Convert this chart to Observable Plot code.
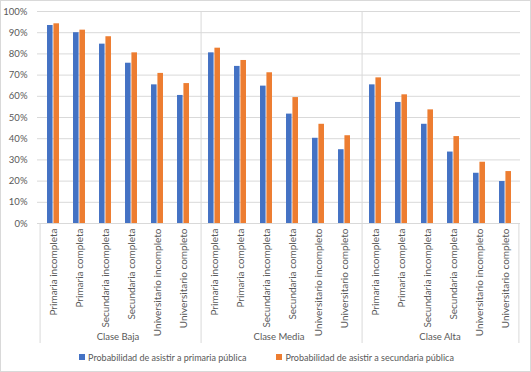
<!DOCTYPE html>
<html>
<head>
<meta charset="utf-8">
<script src="https://cdn.jsdelivr.net/npm/d3@7"></script>
<script src="https://cdn.jsdelivr.net/npm/@observablehq/plot@0.6"></script>
<style>
  html, body { margin: 0; padding: 0; background: #fff; }
  #wrap { position: relative; width: 531px; height: 372px; overflow: hidden; font-family: Lato, "Liberation Sans", sans-serif; }
  #border { position: absolute; left: 0; top: 0; width: 531px; height: 372px; box-sizing: border-box; border: 1px solid #d9d9d9; pointer-events: none; }
  #chart { position: absolute; left: 0; top: 0; }
  #legend { position: absolute; left: 0; top: 350px; width: 531px; height: 14px; display: flex; justify-content: center; align-items: center; gap: 30px; font-size: 9px; color: #595959; padding-left: 2px; box-sizing: border-box; }
  .item { display: flex; align-items: center; gap: 3px; white-space: nowrap; }
  .sw { width: 6px; height: 6px; display: inline-block; }
</style>
</head>
<body>
<div id="wrap">
  <div id="chart"></div>
  <div id="legend"></div>
  <div id="border"></div>
</div>
<script>
const clases = ["Clase Baja", "Clase Media", "Clase Alta"];
const niveles = ["Primaria incompleta", "Primaria completa", "Secundaria incompleta", "Secundaria completa", "Universitario incompleto", "Universitario completo"];
const series = ["Probabilidad de asistir a primaria pública", "Probabilidad de asistir a secundaria pública"];
const colores = ["#4472C4", "#ED7D31"];
// values per class, in order of niveles
const primaria = [
  0.934, 0.900, 0.846, 0.756, 0.654, 0.604,
  0.805, 0.741, 0.648, 0.516, 0.402, 0.348,
  0.654, 0.571, 0.468, 0.337, 0.237, 0.198
];
const secundaria = [
  0.942, 0.912, 0.881, 0.805, 0.708, 0.660,
  0.827, 0.769, 0.711, 0.594, 0.468, 0.414,
  0.687, 0.607, 0.536, 0.410, 0.289, 0.245
];

const rows = [];
clases.forEach((c, ci) => niveles.forEach((n, ni) => {
  const k = ci * niveles.length + ni;
  rows.push({clase: c, nivel: n, primaria: primaria[k], secundaria: secundaria[k]});
}));

const W = 531, H = 350, ML = 37, MR = 11, MT = 11, MB = 127;
const bw = (W - ML - MR) / (clases.length * niveles.length);
const barW = 6.4;
const grey = "#d9d9d9";

const chart = Plot.plot({
  width: W, height: H,
  marginLeft: ML, marginRight: MR, marginTop: MT, marginBottom: MB,
  style: {fontFamily: "Lato, 'Liberation Sans', sans-serif", fontSize: "9.5px", color: "#595959", background: "transparent", overflow: "visible"},
  fx: {domain: clases, padding: 0, label: null},
  x: {domain: niveles, padding: 0, label: null},
  y: {domain: [0, 1], label: null},
  marks: [
    Plot.gridY({ticks: 10, stroke: grey, strokeOpacity: 1}),
    Plot.ruleY([0], {stroke: grey}),
    Plot.axisY({ticks: 10, tickFormat: d3.format(".0%"), tickSize: 0, tickPadding: 10, label: null}),
    Plot.axisX({tickRotate: -90, tickSize: 0, tickPadding: 5, label: null, fontSize: 10}),
    Plot.axisFx({anchor: "bottom", tickSize: 0, tickPadding: 110, label: null, fontSize: 9.5}),
    Plot.barY(rows, {fx: "clase", x: "nivel", y: "primaria", fill: colores[0], insetLeft: bw / 2 - barW, insetRight: bw / 2}),
    Plot.barY(rows, {fx: "clase", x: "nivel", y: "secundaria", fill: colores[1], insetLeft: bw / 2, insetRight: bw / 2 - barW}),
    // group separators (inner: full height, extending into label area)
    Plot.ruleX(clases.slice(1), {fx: d => d, x: () => niveles[0], dx: -bw / 2, stroke: grey, insetBottom: -120}),
    // outer edges: label area only
    Plot.ruleX(clases.slice(0, 1), {fx: d => d, x: () => niveles[0], dx: -bw / 2, stroke: grey, insetTop: H - MT - MB, insetBottom: -120}),
    Plot.ruleX(clases.slice(2), {fx: d => d, x: () => niveles[niveles.length - 1], dx: bw / 2, stroke: grey, insetTop: H - MT - MB, insetBottom: -120})
  ]
});
document.getElementById("chart").appendChild(chart);

const legend = document.getElementById("legend");
series.forEach((s, i) => {
  const it = document.createElement("div");
  it.className = "item";
  const sw = document.createElement("span");
  sw.className = "sw";
  sw.style.background = colores[i];
  const t = document.createElement("span");
  t.textContent = s;
  it.appendChild(sw); it.appendChild(t);
  legend.appendChild(it);
});
</script>
</body>
</html>
